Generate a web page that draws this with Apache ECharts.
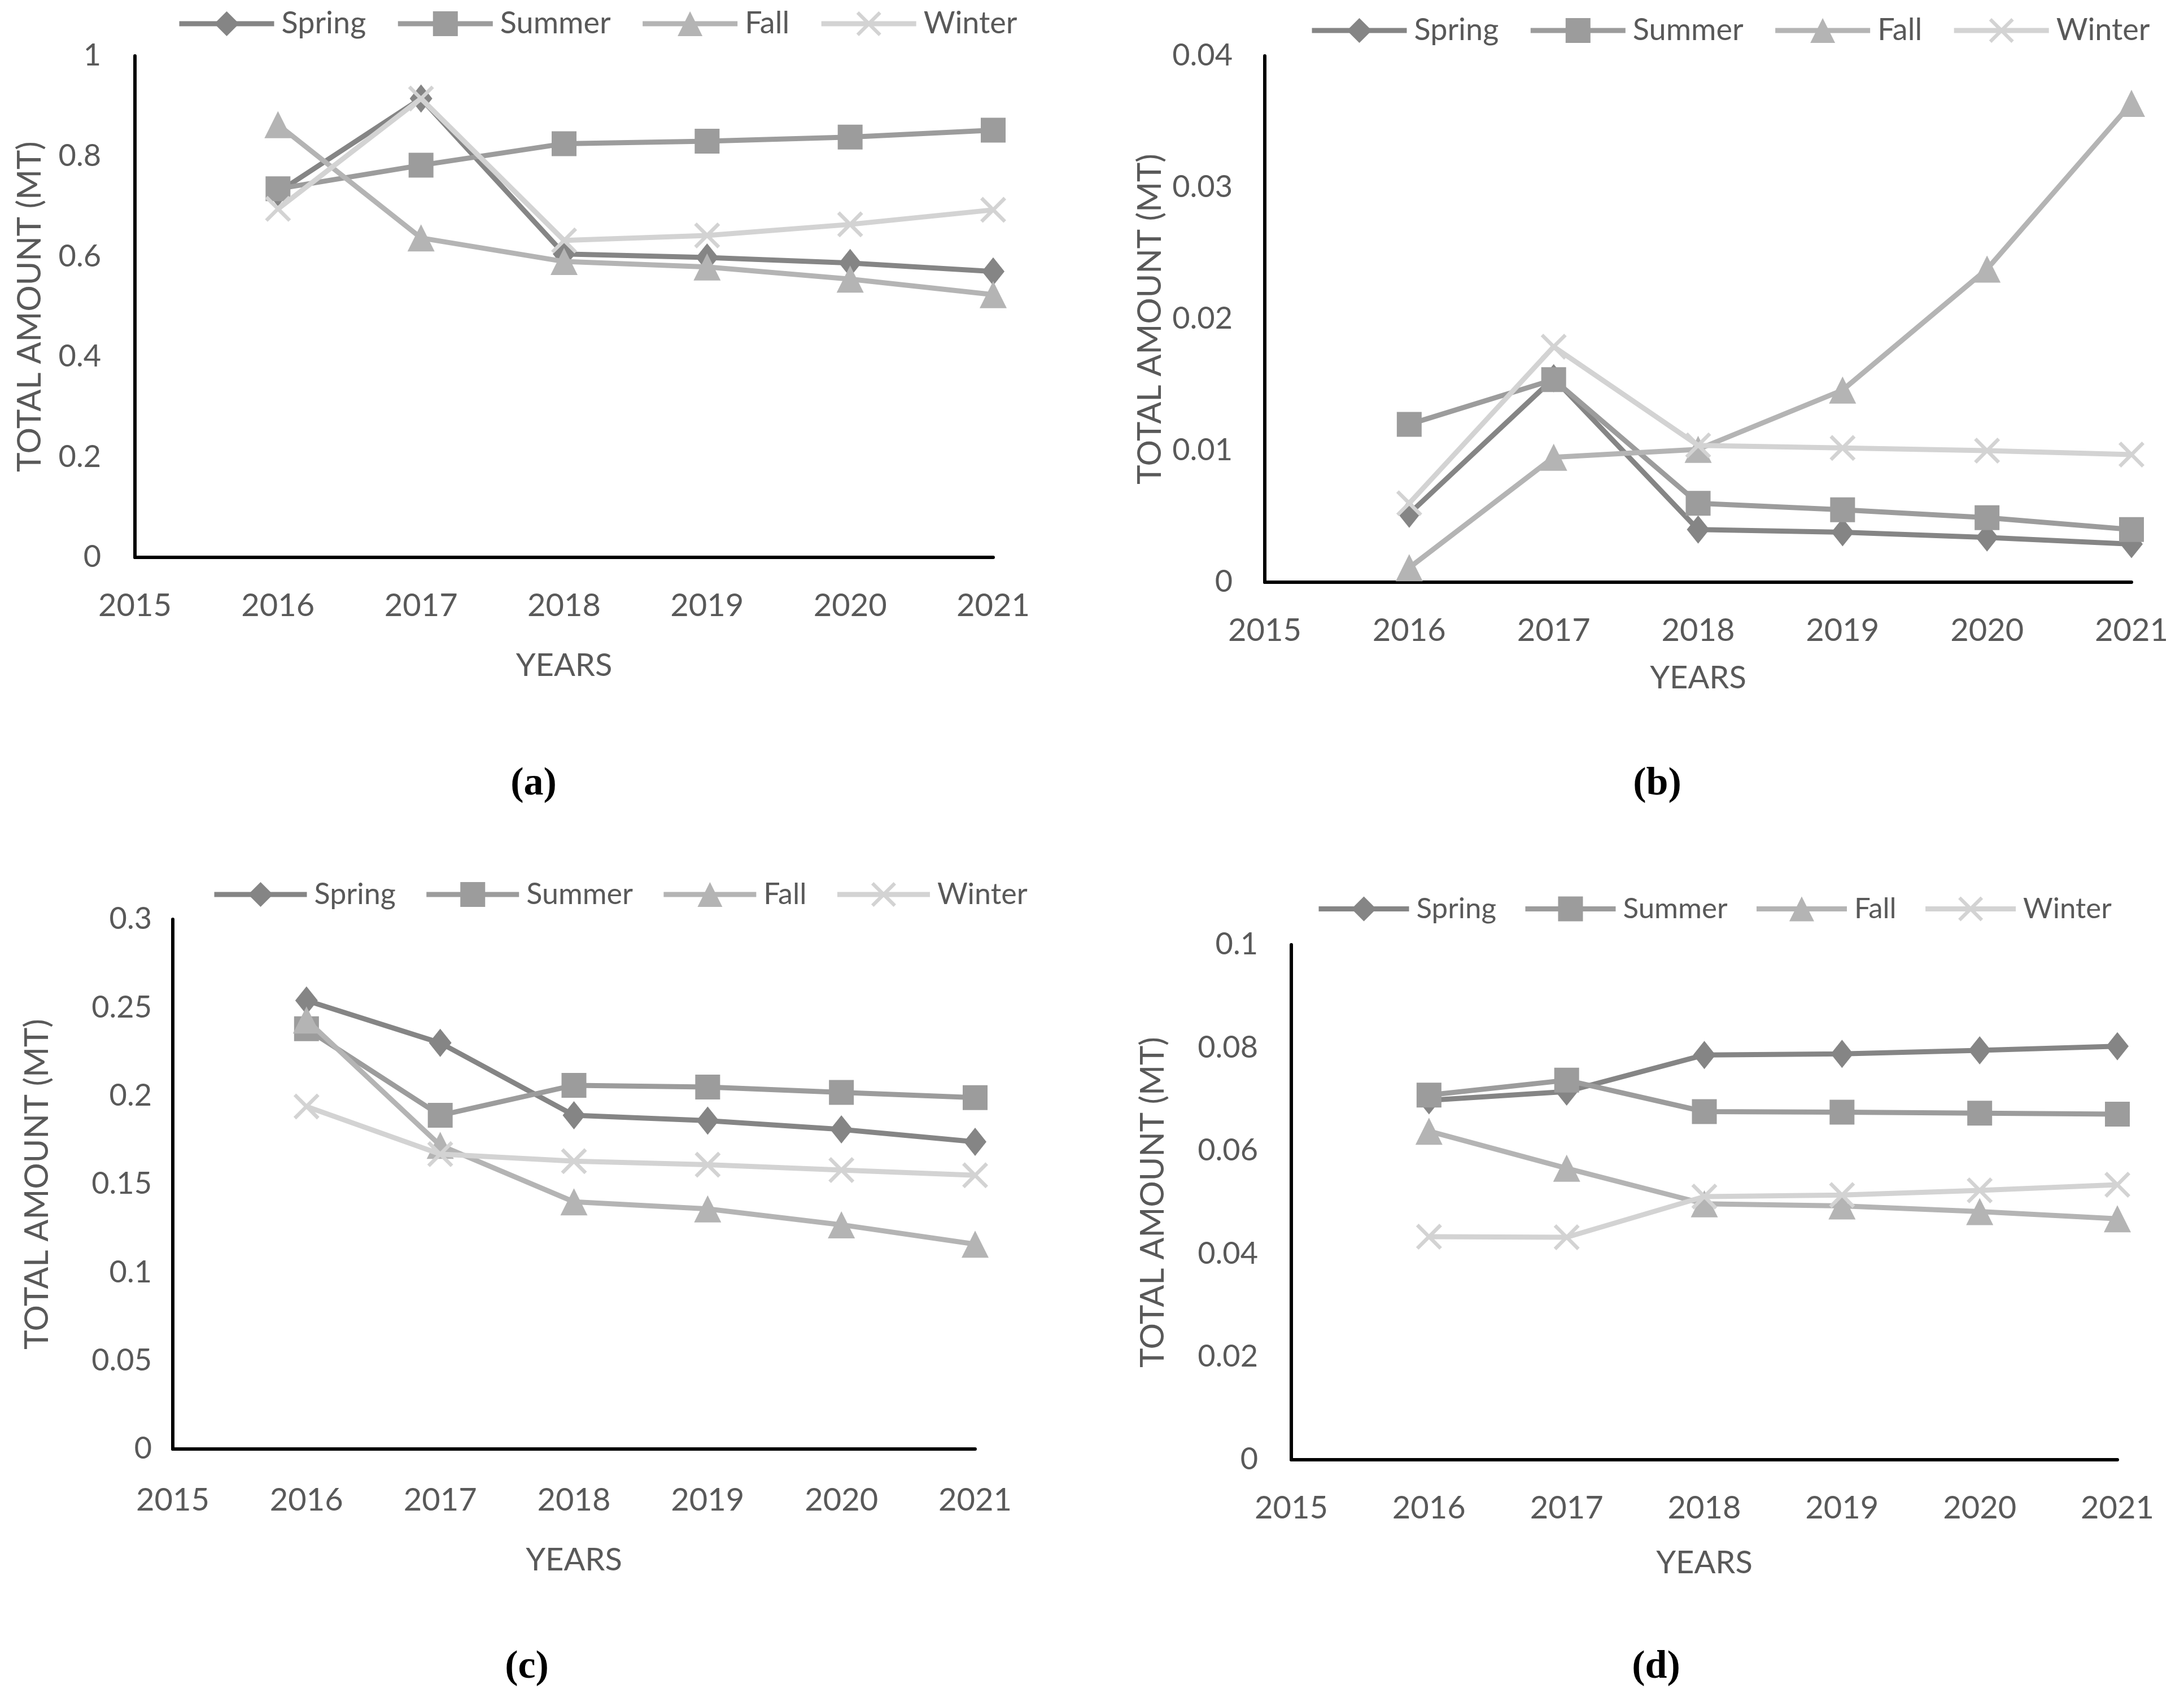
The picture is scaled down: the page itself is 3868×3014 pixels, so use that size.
<!DOCTYPE html>
<html>
<head>
<meta charset="utf-8">
<script src="https://cdn.jsdelivr.net/npm/echarts@6/dist/echarts.min.js"></script>
<style>
html,body{margin:0;padding:0;background:#fff;}
#c{width:3868px;height:3014px;}
</style>
</head>
<body>
<div id="c"></div>
<script>
// ---- data ----
const years = [2016, 2017, 2018, 2019, 2020, 2021];
const seriesNames = ['Spring', 'Summer', 'Fall', 'Winter'];

const aSpring = [0.728, 0.915, 0.605, 0.598, 0.587, 0.570];
const aSummer = [0.735, 0.782, 0.825, 0.830, 0.838, 0.852];
const aFall   = [0.863, 0.637, 0.590, 0.579, 0.555, 0.524];
const aWinter = [0.695, 0.915, 0.632, 0.642, 0.664, 0.693];

const bSpring = [0.0052, 0.0155, 0.0040, 0.0038, 0.0034, 0.0029];
const bSummer = [0.0120, 0.0154, 0.0060, 0.0055, 0.0049, 0.0040];
const bFall   = [0.0011, 0.0095, 0.0101, 0.0146, 0.0238, 0.0364];
const bWinter = [0.0060, 0.0179, 0.0104, 0.0102, 0.0100, 0.0097];

const cSpring = [0.254, 0.230, 0.189, 0.186, 0.181, 0.174];
const cSummer = [0.238, 0.189, 0.206, 0.205, 0.202, 0.199];
const cFall   = [0.243, 0.172, 0.140, 0.136, 0.127, 0.116];
const cWinter = [0.194, 0.167, 0.163, 0.161, 0.158, 0.155];

const dSpring = [0.0698, 0.0715, 0.0786, 0.0788, 0.0795, 0.0803];
const dSummer = [0.0708, 0.0737, 0.0676, 0.0675, 0.0673, 0.0671];
const dFall   = [0.0638, 0.0566, 0.0497, 0.0493, 0.0482, 0.0468];
const dWinter = [0.0433, 0.0432, 0.0511, 0.0514, 0.0523, 0.0534];

const yMaxes = [1, 0.04, 0.3, 0.1];
const yIntervals = [0.2, 0.01, 0.05, 0.02];
const panelLabels = ['(a)', '(b)', '(c)', '(d)'];
const yTitle = 'TOTAL AMOUNT (MT)';
const xTitle = 'YEARS';

// ---- styling / layout ----
const FONT = 'Lato';
const TXT = '#595959';
const colors = ['#858585', '#9c9c9c', '#b4b4b4', '#d3d3d3'];
const xPath = 'path://M1,0 L5,4 L9,0 L10,1 L6,5 L10,9 L9,10 L5,6 L1,10 L0,9 L4,5 L0,1 Z';
const symbols = ['diamond', 'rect', 'triangle', xPath];
const symbolSizes = [[40, 50], 44, 48, 46];

const panels = [
  {data: [aSpring, aSummer, aFall, aWinter], grid: {left: 239, top: 99, width: 1520, height: 888},
   legend: {left: 308, top: 10, font: 54, w: 168, gap: 52}, yGap: 157, yLabelMargin: 60, xLabelMargin: 58, xGap: 164, cap: [945, 1389]},
  {data: [bSpring, bSummer, bFall, bWinter], grid: {left: 2240, top: 99, width: 1535, height: 932},
   legend: {left: 2314, top: 22, font: 54, w: 168, gap: 52}, yGap: 174, yLabelMargin: 57, xLabelMargin: 58, xGap: 142, cap: [2935, 1389]},
  {data: [cSpring, cSummer, cFall, cWinter], grid: {left: 306, top: 1628, width: 1421, height: 938},
   legend: {left: 370, top: 1553, font: 52, w: 164, gap: 50}, yGap: 211, yLabelMargin: 37, xLabelMargin: 63, xGap: 169, cap: [933, 2953]},
  {data: [dSpring, dSummer, dFall, dWinter], grid: {left: 2287, top: 1673, width: 1463, height: 912},
   legend: {left: 2326, top: 1579, font: 51, w: 160, gap: 47}, yGap: 216, yLabelMargin: 59, xLabelMargin: 58, xGap: 155, cap: [2933, 2953]}
];

const option = {
  backgroundColor: '#ffffff',
  animation: false,
  grid: [], xAxis: [], yAxis: [], legend: [], series: [], graphic: []
};

panels.forEach((p, i) => {
  option.grid.push(Object.assign({containLabel: false}, p.grid));
  option.xAxis.push({
    type: 'value', gridIndex: i, min: 2015, max: 2021, interval: 1,
    name: xTitle, nameLocation: 'middle', nameGap: p.xGap,
    nameTextStyle: {fontFamily: FONT, fontSize: 56, color: TXT},
    axisLine: {show: true, lineStyle: {color: '#000', width: 6}},
    axisTick: {show: false}, splitLine: {show: false},
    axisLabel: {fontFamily: FONT, fontSize: 56, color: TXT, margin: p.xLabelMargin,
      formatter: v => String(v)}
  });
  option.yAxis.push({
    type: 'value', gridIndex: i, min: 0, max: yMaxes[i], interval: yIntervals[i],
    name: yTitle, nameLocation: 'middle', nameGap: p.yGap, nameRotate: 90,
    nameTextStyle: {fontFamily: FONT, fontSize: 58, color: TXT},
    axisLine: {show: true, lineStyle: {color: '#000', width: 6}},
    axisTick: {show: false}, splitLine: {show: false},
    axisLabel: {fontFamily: FONT, fontSize: 54, color: TXT, margin: p.yLabelMargin}
  });
  option.legend.push({
    data: seriesNames, left: p.legend.left, top: p.legend.top, orient: 'horizontal',
    itemWidth: p.legend.w, itemHeight: 55, itemGap: p.legend.gap,
    lineStyle: {width: 9},
    textStyle: {fontFamily: FONT, fontSize: p.legend.font, color: TXT, padding: [0, 0, 0, 8]}
  });
  p.data.forEach((vals, k) => {
    option.series.push({
      type: 'line', name: seriesNames[k], xAxisIndex: i, yAxisIndex: i,
      data: years.map((y, j) => [y, vals[j]]),
      symbol: symbols[k], symbolSize: symbolSizes[k],
      lineStyle: {width: 9, color: colors[k]},
      itemStyle: {color: colors[k]},
      z: 2 + k
    });
  });
  option.graphic.push({
    type: 'text', x: p.cap[0], y: p.cap[1],
    style: {text: panelLabels[i], font: 'bold 70px "Liberation Serif"', fill: '#000',
      textAlign: 'center', textVerticalAlign: 'middle'}
  });
});

const chart = echarts.init(document.getElementById('c'));
chart.setOption(option);
</script>
</body>
</html>
